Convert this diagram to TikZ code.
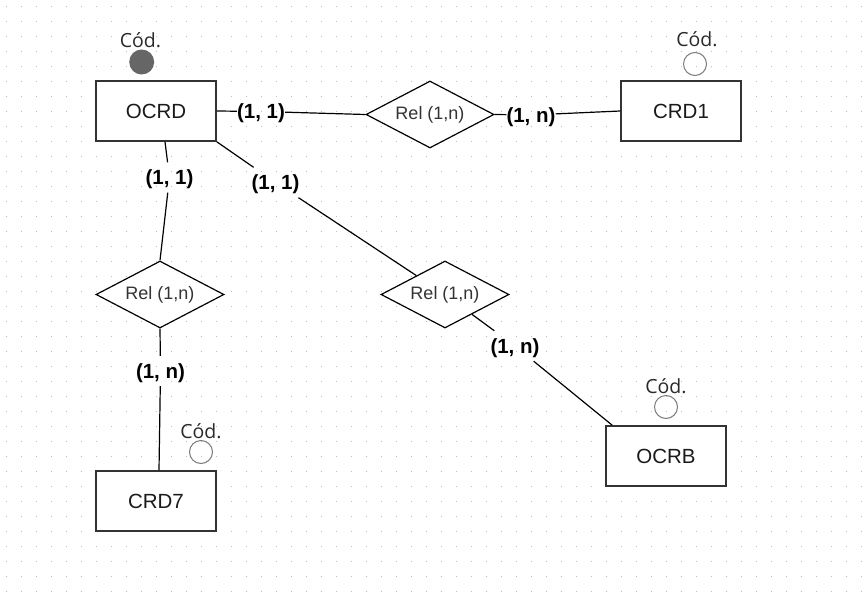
\documentclass[tikz,border=0pt]{standalone}
\usepackage{fontspec}
\setmainfont{Liberation Sans}
\newfontfamily\codfont{Open Sans}
\usetikzlibrary{shapes.geometric}
\definecolor{gridc}{HTML}{BDBDBD}
\definecolor{boxc}{HTML}{333333}
\definecolor{txtc}{HTML}{1A1A1A}
\definecolor{relc}{HTML}{333333}
\definecolor{codc}{HTML}{2A2A2A}
\definecolor{circc}{HTML}{7A7A7A}
\definecolor{fillc}{HTML}{666666}
\newcommand\lowered[1]{\raisebox{-2pt}[\height][\depth]{#1}}
\begin{document}
\begin{tikzpicture}[x=1pt,y=-1pt,
  entity/.style={draw=boxc,line width=1.6pt,fill=white,minimum width=120pt,minimum height=60pt,inner sep=0pt,text=txtc,font=\fontsize{20.5}{24}\selectfont},
  rel/.style={diamond,aspect=2,draw=black,line width=1.2pt,fill=white,minimum width=128pt,minimum height=67pt,inner sep=0pt,text=relc,font=\fontsize{18}{22}\selectfont},
  card/.style={inner xsep=0pt,inner ysep=0pt,minimum height=30pt,font=\bfseries\fontsize{20.5}{24}\selectfont},
  conn/.style={draw=black,line width=1.2pt},
  codlbl/.style={anchor=base,inner sep=0pt,text=codc,font=\codfont\fontsize{19.5}{23}\selectfont},
  keyopen/.style={circle,draw=circc,line width=1pt,minimum size=23pt,inner sep=0pt},
  keyfull/.style={circle,fill=fillc,minimum size=25pt,inner sep=0pt}]
\useasboundingbox (0,0) rectangle (866,599);
\fill[white] (0,0) rectangle (866,599);
% grid
\foreach \i in {0,...,57}{
  \foreach \j in {0,...,39}{
    \fill[gridc] ({5.8+15*\i},{5.8+15*\j}) rectangle ++(1.5,1.5);
  }
}
% entities
\node[entity] (ocrd) at (156,111) {OCRD};
\node[entity] (crd1) at (681,111) {CRD1};
\node[entity] (crd7) at (156,501) {CRD7};
\node[entity] (ocrb) at (666,456) {OCRB};
% relationships
\node[rel] (d1) at (430,114.5) {Rel (1,n)};
\node[rel] (d2) at (160,294.5) {Rel (1,n)};
\node[rel] (d3) at (445,294.5) {Rel (1,n)};
% cardinalities
\node[card] (l1) at (261,111.5) {\lowered{(1, 1)}};
\node[card] (l2) at (531,115) {\lowered{(1, n)}};
\node[card] (l3) at (169.5,177.5) {\lowered{(1, 1)}};
\node[card] (l4) at (275.5,182.5) {\lowered{(1, 1)}};
\node[card] (l5) at (160.5,371) {\lowered{(1, n)}};
\node[card] (l6) at (515,346) {\lowered{(1, n)}};
% keys
\node[codlbl] (k1t) at (140.5,47.3) {Cód.};
\node[keyfull] (k1) at (141.7,62) {};
\node[codlbl] (k2t) at (697,46.7) {Cód.};
\node[keyopen] (k2) at (695,64) {};
\node[codlbl] (k3t) at (201,438.3) {Cód.};
\node[keyopen] (k3) at (201,452) {};
\node[codlbl] (k4t) at (666,393.5) {Cód.};
\node[keyopen] (k4) at (666,407) {};
% connectors
\draw[conn] (ocrd.east) -- (l1);
\draw[conn] (l1) -- (d1.west);
\draw[conn] (d1.east) -- (l2);
\draw[conn] (l2) -- (crd1.west);
\draw[conn] ([xshift=9pt]ocrd.south) -- (l3);
\draw[conn] (l3) -- (d2.north);
\draw[conn] (d2.south) -- (l5);
\draw[conn] (l5) -- ([xshift=3pt]crd7.north);
\draw[conn] (ocrd.south east) -- (l4);
\draw[conn] (l4) -- (d3);
\draw[conn] (d3) -- (l6);
\draw[conn] (l6) -- ([xshift=7pt]ocrb.north west);
\end{tikzpicture}
\end{document}
